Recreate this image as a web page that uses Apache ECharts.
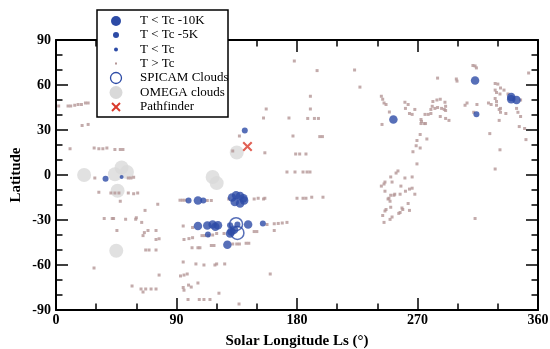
<!DOCTYPE html>
<html>
<head>
<meta charset="utf-8">
<script src="https://cdn.jsdelivr.net/npm/echarts@6/dist/echarts.min.js"></script>
<style>
  html, body { margin: 0; padding: 0; background: #fff; }
  #chart { width: 550px; height: 349px; }
</style>
</head>
<body>
<div id="chart"></div>
<script>
// [Ls, latitude]
var tBelow10 = [
  [313, 63], [340, 52], [340, 50.5], [344, 50], [252, 37],
  [131.5, -15], [134.5, -13.5], [137.5, -14], [140, -15.5], [133.5, -18], [137.5, -19], [140.5, -17],
  [106, -17],
  [106, -34], [113, -33.7], [117, -33], [119, -34.5], [121, -33.5], [143.5, -33],
  [131, -37.7], [130, -39], [133, -36.5],
  [128, -46.5]
];
var tBelow5 = [
  [141, 29.6], [314, 40.5], [37, -2.5], [99, -17], [110, -17],
  [130, -33.5], [135.5, -33], [154.5, -32.3], [113.5, -39.7]
];
var tBelow = [[49, -1.3]];
var tAbove = [
  [2, 46], [9, 46], [11, 46], [14, 46.5], [16.5, 47], [19, 47], [22, 48], [24, 48],
  [19.5, 33], [24, 33.7], [10.5, 17.5],
  [28.5, 18], [32, 17.5], [35, 17.5], [38, 18], [44, 17], [48, 17], [50, 17],
  [29, -2], [54, -2], [56, -2], [58, -1.5],
  [32, -11.5], [41, -12], [44, -12], [47, -12], [54, -12], [58, -12.5], [61, -12],
  [48, -17.5], [66.5, -23.6], [76, -19.5],
  [36, -29], [42, -29], [43, -29], [52, -29.5], [60, -28.5], [59.5, -29.5], [64, -31.6],
  [45.5, -37], [66, -38.4], [68.7, -37], [74.7, -37], [65, -40.4], [74.7, -43], [77, -42.5],
  [67, -50], [69.5, -50], [74.7, -50], [28.4, -62], [77, -66.7], [56.8, -74],
  [63.5, -76], [67, -76], [71, -76], [74.7, -76], [65, -78],
  [95, -34], [102, -35], [95.6, -43], [99.3, -42.4], [102, -41.8],
  [92.6, -16.8], [94.5, -16.8], [96.5, -16.8], [113, -17], [116, -17],
  [101.6, -48.5], [106, -48.5], [107.5, -48.5], [116, -47], [118, -47],
  [109, -40.4], [111, -40.4], [114, -40.4], [117, -40],
  [95, -58], [104.5, -59.3], [110.5, -60], [118.7, -60], [120, -59.3], [126, -59.3],
  [106, -72], [93, -67.3], [95.6, -66.7], [98, -66],
  [95, -75], [99, -73.4], [101, -74.7], [95.6, -76.8],
  [98.6, -83], [107, -83], [110.5, -83], [115, -83],
  [160, -66], [121.7, -78.8], [136.7, -86], [163, -37],
  [157.6, -33], [163, -32.5], [166, -32.3], [169, -32], [172.5, -31.6],
  [148, -37.7], [150, -37.7], [120, -39], [125.5, -39],
  [132, -46], [135, -46], [137, -46], [142, -45.5], [144, -45.5],
  [129, -16], [148, -16], [151, -15.5], [155, -16], [156, -15.5],
  [180, -15.5], [184.5, -15.5], [186.7, -15.5], [191, -14.8], [199.4, -14.8],
  [172.5, 2], [178.5, 2], [184.5, 2], [187.5, 2], [189.7, 2],
  [179, 14], [182, 14], [186.7, 14], [156, 14.8], [132, 16],
  [137, 26], [177, 26], [197, 25.6], [199, 25.6],
  [155, 38], [174, 38], [188, 37.7], [193, 37.7], [196, 37.7],
  [157, 44], [190, 44], [190, 52.5], [227, 58.6], [178, 76], [195, 69.6], [223, 70],
  [311.4, 73], [313, 72.7], [314, 71.4], [285, 64.6], [299, 64], [299.5, 62.6], [353, 68],
  [328, 61], [330, 60.6], [332, 58], [334.6, 56.6],
  [328, 56.6], [329, 55], [331.6, 54], [337.6, 54],
  [243, 52.5], [244, 50.5], [245, 48], [246.5, 47], [249, 42], [243.5, 33.7],
  [260.6, 48.5], [263, 47], [261, 44.4], [264, 41], [266, 40.4], [268, 43.7],
  [272.6, 37], [273, 35.7], [272.6, 34.3], [275, 34.3], [276, 34.3],
  [275.6, 40.4], [278, 40.4], [280, 41], [280, 43.7], [281, 45.8],
  [281.5, 49], [284.5, 50], [287, 50.5],
  [283, 44.4], [285, 45], [288, 44.4], [290, 43.7], [291, 45.8], [291, 43], [290.5, 48.5],
  [287, 39], [291, 37.7], [293.5, 36.4],
  [272, 27], [277, 24], [269.6, 23], [269, 19.5], [272, 18], [266.6, 15.5], [269.6, 7.4],
  [254, 1.3], [255.4, 2.7],
  [307, 48], [305.5, 46.5], [314.4, 47], [312, 41.8],
  [323, 48], [325, 47], [328, 51], [329, 49], [329, 46.5], [331, 43.7], [332, 44.4],
  [332, 41.8], [336, 41], [331, 36.4], [324, 27.6], [331.6, 16.8], [328, 4],
  [344, 44.4], [345, 41.8], [347, 39], [346, 32.3], [350, 31], [351, 23.6], [347, 50],
  [250, -1.3], [260.6, -2], [266, -1.3],
  [243, -7.4], [245.7, -4.7], [245, -6], [251, -4.7], [257.6, -7.4],
  [245.7, -10.8], [261, -10.8], [264, -9.4], [266, -8.8],
  [250, -13.5], [252.4, -13.5], [253, -12.8], [257, -12.8], [268, -12.8],
  [248, -16], [248.7, -15.5], [249.5, -17.5], [263, -19],
  [246.5, -23], [245.7, -24], [250, -21.5],
  [259, -23], [258.4, -22], [257, -25], [256, -25.6], [264, -23.6],
  [244, -27], [251, -28], [249.5, -29.6], [245, -31.6], [313, -29]
];
var spicamClouds = [[134.5, -32.8], [135.5, -38.6]];
var omegaClouds = [
  [21, 0], [44, 0.5], [49, 5], [53, 2], [46, -10.5],
  [117, -1.3], [120, -5.4], [45, -50.5], [135, 15]
];
var pathfinder = [[143, 19]];

var legendLabels = ['T < Tc -10K', 'T < Tc -5K', 'T < Tc', 'T > Tc', 'SPICAM Clouds', 'OMEGA clouds', 'Pathfinder'];

var blue = '#2d4ba6';
var brown = '#b49696';
var grey = '#d9d9d9';
var red = '#d93a2b';
var serif = '"Liberation Serif", "DejaVu Serif", serif';
var xPath = 'path://M0,1.5L1.5,0L5,3.5L8.5,0L10,1.5L6.5,5L10,8.5L8.5,10L5,6.5L1.5,10L0,8.5L3.5,5Z';

var chart = echarts.init(document.getElementById('chart'));

function axisBase(extra) {
  var a = {
    type: 'value',
    axisLine: { onZero: false, lineStyle: { color: '#000', width: 2 } },
    axisTick: { inside: true, length: 12, lineStyle: { color: '#000', width: 1.5 } },
    minorTick: { show: true, splitNumber: 3, length: 6.5, lineStyle: { color: '#000', width: 1.5 } },
    splitLine: { show: false },
    minorSplitLine: { show: false }
  };
  for (var k in extra) a[k] = extra[k];
  return a;
}

// hand-built legend box (icons of different sizes)
var rowY = [21, 35, 49.5, 63.5, 78, 92.5, 107];
var iconX = 116, textX = 140;
var legendIcons = [
  { type: 'circle', shape: { cx: iconX, cy: rowY[0], r: 5 }, style: { fill: blue } },
  { type: 'circle', shape: { cx: iconX, cy: rowY[1], r: 3 }, style: { fill: blue } },
  { type: 'circle', shape: { cx: iconX, cy: rowY[2], r: 2 }, style: { fill: blue } },
  { type: 'rect', shape: { x: iconX - 1, y: rowY[3] - 1, width: 2, height: 2 }, style: { fill: brown } },
  { type: 'circle', shape: { cx: iconX, cy: rowY[4], r: 5.5 }, style: { fill: '#fff', stroke: blue, lineWidth: 1.3 } },
  { type: 'circle', shape: { cx: iconX, cy: rowY[5], r: 6.5 }, style: { fill: grey } },
  { type: 'line', shape: { x1: iconX - 4, y1: rowY[6] - 4, x2: iconX + 4, y2: rowY[6] + 4 }, style: { stroke: red, lineWidth: 2 } },
  { type: 'line', shape: { x1: iconX - 4, y1: rowY[6] + 4, x2: iconX + 4, y2: rowY[6] - 4 }, style: { stroke: red, lineWidth: 2 } }
];
var legendGraphic = [{
  type: 'rect', z: 10,
  shape: { x: 97, y: 10, width: 131, height: 107 },
  style: { fill: '#fff', stroke: '#000', lineWidth: 1.5 }
}];
legendIcons.forEach(function (g) { g.z = 11; legendGraphic.push(g); });
legendLabels.forEach(function (t, i) {
  legendGraphic.push({
    type: 'text', z: 11, x: textX, y: rowY[i],
    style: { text: t, fill: '#000', font: '13px ' + serif, verticalAlign: 'middle', align: 'left' }
  });
});

var option = {
  animation: false,
  backgroundColor: '#fff',
  grid: { left: 56, right: 12, top: 40, bottom: 39, containLabel: false, outerBoundsMode: 'none' },
  graphic: legendGraphic,
  xAxis: [
    axisBase({
      min: 0, max: 360, interval: 90,
      name: 'Solar Longitude Ls (°)', nameLocation: 'middle', nameGap: 24,
      nameTextStyle: { fontFamily: serif, fontSize: 15, fontWeight: 'bold', color: '#000' },
      axisLabel: { margin: 3, fontFamily: serif, fontSize: 14, fontWeight: 'bold', color: '#000' }
    }),
    axisBase({ min: 0, max: 360, interval: 90, position: 'top', axisLabel: { show: false } })
  ],
  yAxis: [
    axisBase({
      min: -90, max: 90, interval: 30,
      name: 'Latitude', nameLocation: 'middle', nameGap: 32, nameMoveOverlap: false,
      nameTextStyle: { fontFamily: serif, fontSize: 15, fontWeight: 'bold', color: '#000' },
      axisLabel: { margin: 5, fontFamily: serif, fontSize: 14, fontWeight: 'bold', color: '#000' }
    }),
    axisBase({ min: -90, max: 90, interval: 30, position: 'right', axisLabel: { show: false } })
  ],
  series: [
    { name: 'OMEGA clouds', type: 'scatter', data: omegaClouds, symbolSize: 14,
      itemStyle: { color: grey }, z: 1 },
    { name: 'T > Tc', type: 'scatter', data: tAbove, symbol: 'rect', symbolSize: 3,
      itemStyle: { color: brown }, z: 2 },
    { name: 'T < Tc', type: 'scatter', data: tBelow, symbolSize: 4,
      itemStyle: { color: blue }, z: 3 },
    { name: 'T < Tc -5K', type: 'scatter', data: tBelow5, symbolSize: 6,
      itemStyle: { color: blue }, z: 3 },
    { name: 'T < Tc -10K', type: 'scatter', data: tBelow10, symbolSize: 8.5,
      itemStyle: { color: blue }, z: 3 },
    { name: 'SPICAM Clouds', type: 'scatter', data: spicamClouds, symbolSize: 13,
      itemStyle: { color: 'rgba(0,0,0,0)', borderColor: blue, borderWidth: 1.5 }, z: 4 },
    { name: 'Pathfinder', type: 'scatter', data: pathfinder, symbol: xPath, symbolSize: 10,
      itemStyle: { color: red }, z: 5 }
  ]
};
chart.setOption(option);
</script>
</body>
</html>
